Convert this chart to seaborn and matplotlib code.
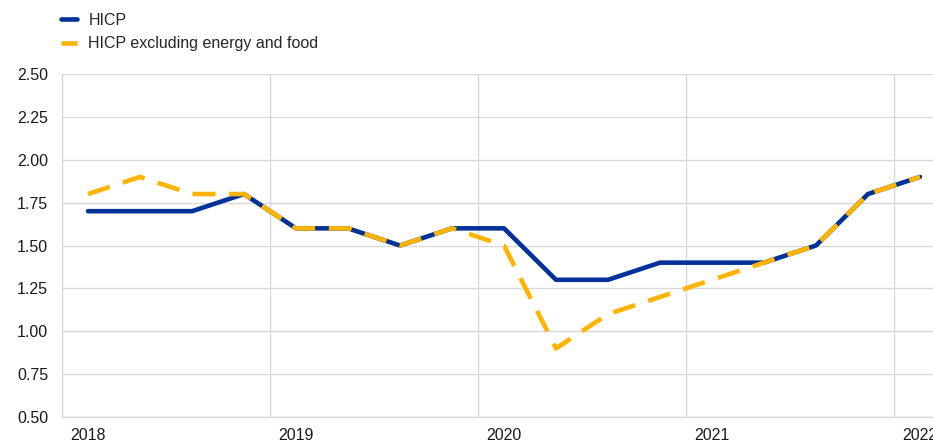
import numpy as np
import pandas as pd
import seaborn as sns
import matplotlib.pyplot as plt

quarters = ["2018Q1", "2018Q2", "2018Q3", "2018Q4",
            "2019Q1", "2019Q2", "2019Q3", "2019Q4",
            "2020Q1", "2020Q2", "2020Q3", "2020Q4",
            "2021Q1", "2021Q2", "2021Q3", "2021Q4",
            "2022Q1"]
hicp = [1.7, 1.7, 1.7, 1.8, 1.6, 1.6, 1.5, 1.6, 1.6, 1.3, 1.3, 1.4, 1.4, 1.4, 1.5, 1.8, 1.9]
hicp_core = [1.8, 1.9, 1.8, 1.8, 1.6, 1.6, 1.5, 1.6, 1.5, 0.9, 1.1, 1.2, 1.3, 1.4, 1.5, 1.8, 1.9]
year_labels = ["2018", "2019", "2020", "2021", "2022"]
y_ticks = [0.5, 0.75, 1.0, 1.25, 1.5, 1.75, 2.0, 2.25, 2.5]

sns.set_style("white")
plt.rcParams["font.family"] = ["Liberation Sans", "DejaVu Sans"]

df = pd.DataFrame({"pos": np.arange(len(quarters)), "quarter": quarters,
                   "HICP": hicp, "HICP excluding energy and food": hicp_core})

fig = plt.figure(figsize=(9.33, 4.41), dpi=100)
ax = fig.add_axes([62 / 933, 24 / 441, 884 / 933, 343 / 441])

sns.lineplot(data=df, x="pos", y="HICP", ax=ax, color="#003299", linewidth=3.3,
             label="HICP", solid_capstyle="round", solid_joinstyle="round")
sns.lineplot(data=df, x="pos", y="HICP excluding energy and food", ax=ax, color="#FFB400",
             linewidth=3.3, label="HICP excluding energy and food")
ax.lines[-1].set_dashes((5.0, 3.0))
ax.lines[-1].set_dash_capstyle("butt")

ax.set_xlim(-0.5, len(quarters) - 0.5)
ax.set_ylim(0.5, 2.5)
ax.set_yticks(y_ticks)
ax.set_yticklabels([f"{v:.2f}" for v in y_ticks])
year_pos = [quarters.index(y + "Q1") for y in year_labels]
ax.set_xticks(year_pos)
ax.set_xticklabels(year_labels)
ax.set_xticks([p - 0.5 for p in year_pos[1:]], minor=True)
ax.tick_params(axis="both", which="both", length=0, labelsize=11.5, colors="#1a1a1a")
ax.tick_params(axis="x", pad=8)
ax.tick_params(axis="y", pad=10)
ax.set_xlabel("")
ax.set_ylabel("")

ax.grid(axis="y", which="major", color="#d9d9d9", linewidth=1)
ax.grid(axis="x", which="minor", color="#d9d9d9", linewidth=1)
ax.grid(axis="x", which="major", visible=False)
ax.set_axisbelow(True)
for side in ["top", "right"]:
    ax.spines[side].set_visible(False)
for side in ["left", "bottom"]:
    ax.spines[side].set_color("#d9d9d9")
    ax.spines[side].set_linewidth(1)

ax.legend_.remove()
handles, labels = ax.get_legend_handles_labels()
fig.legend(handles, labels, loc="upper left", bbox_to_anchor=(50 / 933, 0.997),
           frameon=False, fontsize=11.5, handlelength=1.0, handletextpad=0.7,
           labelspacing=0.56, borderaxespad=0.3)

fig.savefig("out.png", dpi=100)
